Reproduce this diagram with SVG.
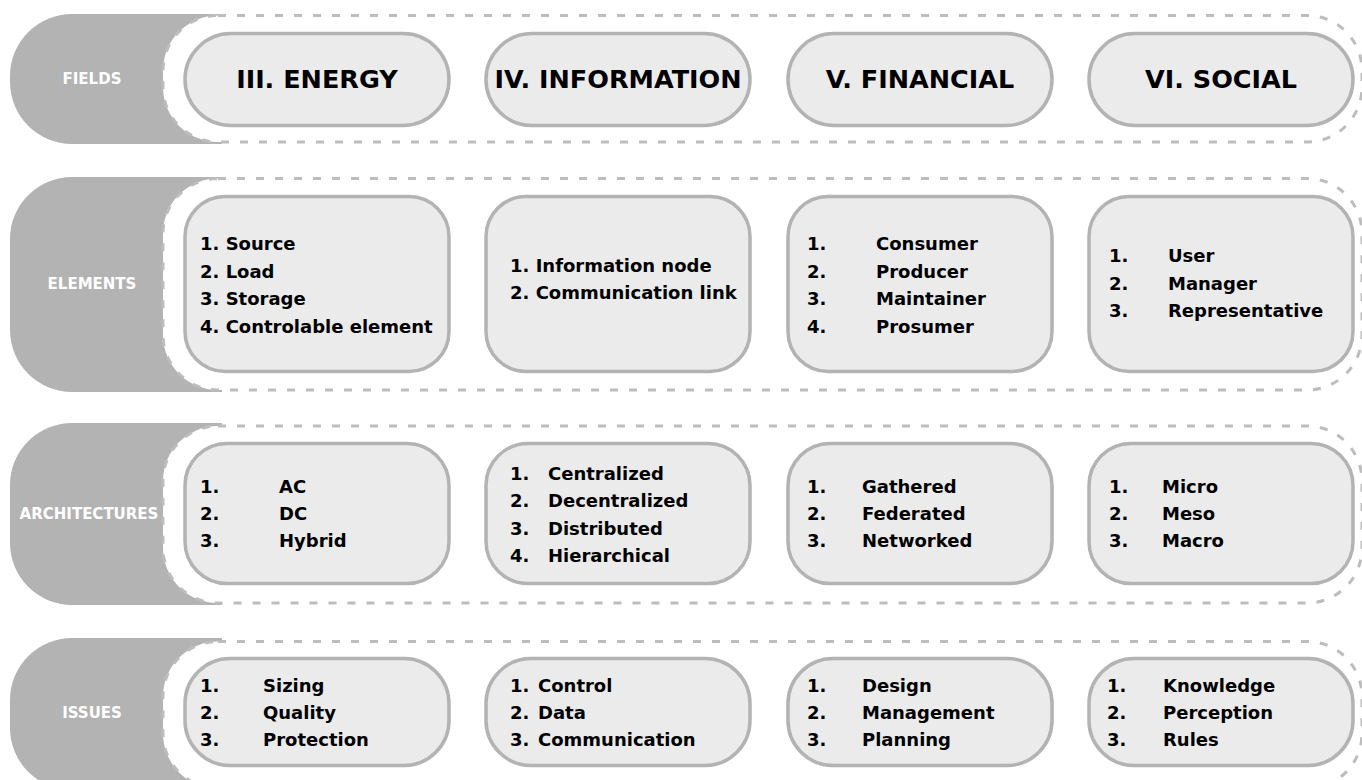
<svg xmlns="http://www.w3.org/2000/svg" width="1362" height="780" viewBox="0 0 1362 780">
<style>
.lbl{fill:#b3b3b3}
.cont{fill:#fff;stroke:#bdbdbd;stroke-width:3;stroke-dasharray:8 11}
.box{fill:#ebebeb;stroke:#b3b3b3;stroke-width:3.5}
.lt{font-family:"DejaVu Sans",Verdana,sans-serif;font-weight:bold;font-size:15px;fill:#fff;text-anchor:middle}
.tt{font-family:"DejaVu Sans",Verdana,sans-serif;font-weight:bold;font-size:25.5px;fill:#000;text-anchor:middle}
.it{font-family:"DejaVu Sans",Verdana,sans-serif;font-weight:bold;font-size:18px;fill:#000}
</style>
<rect width="1362" height="780" fill="#fff"/>

<g id="row-fields">
<path class="lbl" d="M222,14 H72 A62,62 0 0 0 10,76 V82 A62,62 0 0 0 72,144 H222 Z"/>
<rect class="cont" x="163" y="15.5" width="1199" height="126.5" rx="55"/>
<text class="lt" x="92" y="84">FIELDS</text>
</g>
<g id="row-elements">
<path class="lbl" d="M222,177 H72 A62,62 0 0 0 10,239 V330 A62,62 0 0 0 72,392 H222 Z"/>
<rect class="cont" x="163" y="178.5" width="1199" height="211.5" rx="55"/>
<text class="lt" x="92" y="289">ELEMENTS</text>
</g>
<g id="row-architectures">
<path class="lbl" d="M222,423 H72 A62,62 0 0 0 10,485 V543 A62,62 0 0 0 72,605 H222 Z"/>
<rect class="cont" x="163" y="426" width="1199" height="177" rx="55"/>
<text class="lt" x="89" y="519">ARCHITECTURES</text>
</g>
<g id="row-issues">
<path class="lbl" d="M222,638 H72 A62,62 0 0 0 10,700 V728 A62,62 0 0 0 72,790 H222 Z"/>
<rect class="cont" x="163" y="641.5" width="1199" height="147" rx="55"/>
<text class="lt" x="92" y="718">ISSUES</text>
</g>

<g id="field-energy">
<rect class="box" x="185" y="33.5" width="264" height="92" rx="46"/>
<text class="tt" x="317" y="88">III. ENERGY</text>
</g>
<g id="field-information">
<rect class="box" x="486" y="33.5" width="264" height="92" rx="46"/>
<text class="tt" x="618" y="88">IV. INFORMATION</text>
</g>
<g id="field-financial">
<rect class="box" x="788" y="33.5" width="264" height="92" rx="46"/>
<text class="tt" x="920" y="88">V. FINANCIAL</text>
</g>
<g id="field-social">
<rect class="box" x="1089" y="33.5" width="264" height="92" rx="46"/>
<text class="tt" x="1221" y="88">VI. SOCIAL</text>
</g>

<g id="elements-energy">
<rect class="box" x="185" y="196.5" width="264" height="175" rx="40"/>
<text class="it" x="200" y="250">1. Source</text>
<text class="it" x="200" y="277.5">2. Load</text>
<text class="it" x="200" y="305">3. Storage</text>
<text class="it" x="200" y="332.5">4. Controlable element</text>
</g>
<g id="elements-information">
<rect class="box" x="486" y="196.5" width="264" height="175" rx="40"/>
<text class="it" x="510" y="272">1. Information node</text>
<text class="it" x="510" y="299">2. Communication link</text>
</g>
<g id="elements-financial">
<rect class="box" x="788" y="196.5" width="264" height="175" rx="40"/>
<text class="it" x="807" y="250">1.</text><text class="it" x="876" y="250">Consumer</text>
<text class="it" x="807" y="277.5">2.</text><text class="it" x="876" y="277.5">Producer</text>
<text class="it" x="807" y="305">3.</text><text class="it" x="876" y="305">Maintainer</text>
<text class="it" x="807" y="332.5">4.</text><text class="it" x="876" y="332.5">Prosumer</text>
</g>
<g id="elements-social">
<rect class="box" x="1089" y="196.5" width="264" height="175" rx="40"/>
<text class="it" x="1109" y="262">1.</text><text class="it" x="1168" y="262">User</text>
<text class="it" x="1109" y="289.5">2.</text><text class="it" x="1168" y="289.5">Manager</text>
<text class="it" x="1109" y="317">3.</text><text class="it" x="1168" y="317">Representative</text>
</g>

<g id="arch-energy">
<rect class="box" x="185" y="443.5" width="264" height="140" rx="42"/>
<text class="it" x="200" y="493">1.</text><text class="it" x="279" y="493">AC</text>
<text class="it" x="200" y="520">2.</text><text class="it" x="279" y="520">DC</text>
<text class="it" x="200" y="547">3.</text><text class="it" x="279" y="547">Hybrid</text>
</g>
<g id="arch-information">
<rect class="box" x="486" y="443.5" width="264" height="140" rx="42"/>
<text class="it" x="510" y="480">1.</text><text class="it" x="548" y="480">Centralized</text>
<text class="it" x="510" y="507">2.</text><text class="it" x="548" y="507">Decentralized</text>
<text class="it" x="510" y="534.5">3.</text><text class="it" x="548" y="534.5">Distributed</text>
<text class="it" x="510" y="562">4.</text><text class="it" x="548" y="562">Hierarchical</text>
</g>
<g id="arch-financial">
<rect class="box" x="788" y="443.5" width="264" height="140" rx="42"/>
<text class="it" x="807" y="493">1.</text><text class="it" x="862" y="493">Gathered</text>
<text class="it" x="807" y="520">2.</text><text class="it" x="862" y="520">Federated</text>
<text class="it" x="807" y="547">3.</text><text class="it" x="862" y="547">Networked</text>
</g>
<g id="arch-social">
<rect class="box" x="1089" y="443.5" width="264" height="140" rx="42"/>
<text class="it" x="1109" y="493">1.</text><text class="it" x="1162" y="493">Micro</text>
<text class="it" x="1109" y="520">2.</text><text class="it" x="1162" y="520">Meso</text>
<text class="it" x="1109" y="547">3.</text><text class="it" x="1162" y="547">Macro</text>
</g>

<g id="issues-energy">
<rect class="box" x="185" y="658.5" width="264" height="107" rx="45"/>
<text class="it" x="200" y="692">1.</text><text class="it" x="263" y="692">Sizing</text>
<text class="it" x="200" y="719">2.</text><text class="it" x="263" y="719">Quality</text>
<text class="it" x="200" y="746">3.</text><text class="it" x="263" y="746">Protection</text>
</g>
<g id="issues-information">
<rect class="box" x="486" y="658.5" width="264" height="107" rx="45"/>
<text class="it" x="510" y="692">1.</text><text class="it" x="538" y="692">Control</text>
<text class="it" x="510" y="719">2.</text><text class="it" x="538" y="719">Data</text>
<text class="it" x="510" y="746">3.</text><text class="it" x="538" y="746">Communication</text>
</g>
<g id="issues-financial">
<rect class="box" x="788" y="658.5" width="264" height="107" rx="45"/>
<text class="it" x="807" y="692">1.</text><text class="it" x="862" y="692">Design</text>
<text class="it" x="807" y="719">2.</text><text class="it" x="862" y="719">Management</text>
<text class="it" x="807" y="746">3.</text><text class="it" x="862" y="746">Planning</text>
</g>
<g id="issues-social">
<rect class="box" x="1089" y="658.5" width="264" height="107" rx="45"/>
<text class="it" x="1107" y="692">1.</text><text class="it" x="1163" y="692">Knowledge</text>
<text class="it" x="1107" y="719">2.</text><text class="it" x="1163" y="719">Perception</text>
<text class="it" x="1107" y="746">3.</text><text class="it" x="1163" y="746">Rules</text>
</g>

<g id="connectors"></g>
</svg>
